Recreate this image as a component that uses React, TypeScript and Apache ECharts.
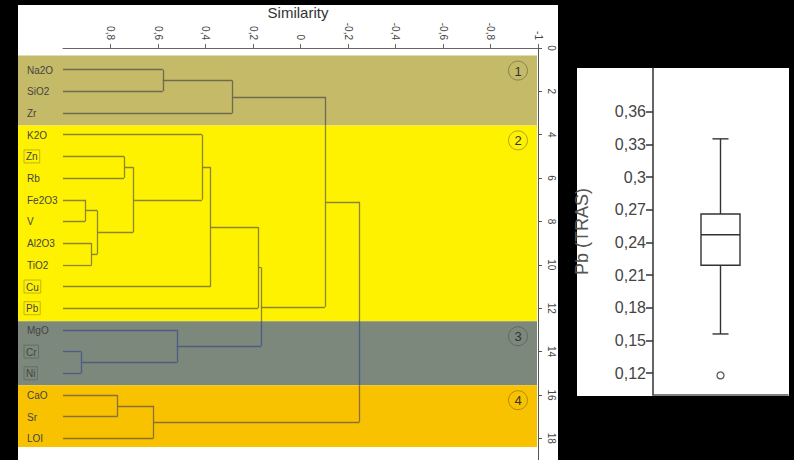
import React, { useEffect, useRef } from "react";
import * as echarts from "echarts";

// ---- Dendrogram data ----
const leaves = ["Na2O", "SiO2", "Zr", "K2O", "Zn", "Rb", "Fe2O3", "V", "Al2O3", "TiO2", "Cu", "Pb", "MgO", "Cr", "Ni", "CaO", "Sr", "LOI"];
const boxedLeaves = ["Zn", "Cu", "Pb", "Cr", "Ni"];
// merge steps (negative = leaf index, 1-based; positive = earlier merge, 1-based)
const mergeA = [-14, -7, -9, 2, -16, -5, 6, 5, -1, -13, -4, 11, 9, 12, 14, 13, 16];
const mergeB = [-15, -8, -10, 3, -17, -6, 4, -18, -2, 1, 7, -11, -3, -12, 10, 15, 8];
const mergeSim = [0.924, 0.907, 0.879, 0.855, 0.771, 0.743, 0.704, 0.62, 0.58, 0.521, 0.415, 0.378, 0.287, 0.179, 0.166, -0.103, -0.248];
const similarityTicks = [0.8, 0.6, 0.4, 0.2, 0, -0.2, -0.4, -0.6, -0.8, -1];
const clusterIds = ["1", "2", "3", "4"];
const clusterTop = [0.35, 3.57, 12.6, 15.55];
const clusterBottom = [3.57, 12.6, 15.55, 18.4];

// ---- Boxplot data ----
const boxCategory = ["Pb"];
const boxStats = [0.156, 0.219, 0.247, 0.266, 0.335]; // min, Q1, median, Q3, max
const boxOutliers = [0.118];
const boxTicks = [0.12, 0.15, 0.18, 0.21, 0.24, 0.27, 0.3, 0.33, 0.36];

// ---- styles ----
const bandFill = ["#C4BA68", "#FFF200", "#7B887B", "#F8C200"];
const bandLine = ["#6E6B50", "#8C8530", "#4D5D84", "#8A7035"];
const bandRing = ["#8A8250", "#B0A420", "#5E6A5E", "#B08A10"];

function bandOf(y: number): number {
  for (let i = 0; i < clusterTop.length; i++) {
    if (y >= clusterTop[i] && y < clusterBottom[i]) return i;
  }
  return y < clusterTop[0] ? 0 : clusterTop.length - 1;
}

function buildSegments() {
  const nodes: { x: number; y: number }[] = [];
  const pos = (id: number) => (id < 0 ? { x: 1, y: -id } : nodes[id - 1]);
  const raw: number[][] = [];
  for (let k = 0; k < mergeA.length; k++) {
    const a = pos(mergeA[k]);
    const b = pos(mergeB[k]);
    const s = mergeSim[k];
    raw.push([a.x, a.y, s, a.y]);
    raw.push([b.x, b.y, s, b.y]);
    raw.push([s, a.y, s, b.y]);
    nodes.push({ x: s, y: (a.y + b.y) / 2 });
  }
  const out: { coords: number[][]; lineStyle: { color: string } }[] = [];
  raw.forEach(([x1, y1, x2, y2]) => {
    if (y1 === y2) {
      out.push({ coords: [[x1, y1], [x2, y2]], lineStyle: { color: bandLine[bandOf(y1)] } });
    } else {
      const lo = Math.min(y1, y2);
      const hi = Math.max(y1, y2);
      const cuts = [lo];
      clusterBottom.forEach((c) => {
        if (c > lo && c < hi) cuts.push(c);
      });
      cuts.push(hi);
      for (let i = 0; i < cuts.length - 1; i++) {
        const mid = (cuts[i] + cuts[i + 1]) / 2;
        out.push({ coords: [[x1, cuts[i]], [x1, cuts[i + 1]]], lineStyle: { color: bandLine[bandOf(mid)] } });
      }
    }
  });
  return out;
}

const fmtComma = (v: number) => String(Math.round(v * 1000) / 1000).replace(".", ",");

export default function App() {
  const ref = useRef<HTMLDivElement>(null);
  useEffect(() => {
    if (!ref.current) return;
    const chart = echarts.init(ref.current, null, { renderer: "svg" });
    const font = "'Liberation Sans', Arial, sans-serif";
    const option: any = {
      animation: false,
      backgroundColor: "#000",
      textStyle: { fontFamily: font },
      graphic: [
        { type: "rect", z: -10, shape: { x: 18, y: 5, width: 540, height: 455 }, style: { fill: "#fff" } },
        { type: "rect", z: -10, shape: { x: 577, y: 68, width: 212, height: 328 }, style: { fill: "#fff" } },
        {
          type: "text",
          x: 298,
          y: 12,
          style: { text: "Similarity", fontSize: 15, fill: "#333", align: "center", verticalAlign: "middle", fontFamily: font },
        },
      ],
      grid: [
        { left: 63, top: 48, width: 475, height: 412 },
        { left: 18, top: 48, width: 519, height: 412 },
        { left: 653, top: 68, width: 135, height: 327 },
      ],
      xAxis: [
        {
          gridIndex: 0,
          type: "value",
          min: -1,
          max: 1,
          inverse: true,
          position: "top",
          splitLine: { show: false },
          axisLine: { show: true, onZero: false, lineStyle: { color: "#666", width: 1 } },
          axisTick: { show: true, length: 4, lineStyle: { color: "#666" }, customValues: similarityTicks },
          axisLabel: {
            rotate: 90,
            margin: 8,
            fontSize: 10,
            color: "#444",
            customValues: similarityTicks,
            formatter: (v: number) => fmtComma(v),
          },
        },
        {
          gridIndex: 1,
          type: "value",
          min: 0,
          max: 1,
          show: false,
        },
        {
          gridIndex: 2,
          type: "category",
          data: boxCategory,
          axisLine: { show: true, onZero: false, lineStyle: { color: "#555", width: 1.5 } },
          axisTick: { show: false },
          axisLabel: { show: false },
        },
      ],
      yAxis: [
        {
          gridIndex: 0,
          type: "value",
          min: 0,
          max: 19,
          interval: 2,
          inverse: true,
          position: "right",
          splitLine: { show: false },
          axisLine: { show: true, onZero: false, lineStyle: { color: "#555", width: 1 } },
          axisTick: { show: true, length: 4, lineStyle: { color: "#555" } },
          axisLabel: { rotate: -90, margin: 8, fontSize: 10, color: "#444", showMaxLabel: false },
        },
        {
          gridIndex: 1,
          type: "value",
          min: 0,
          max: 19,
          inverse: true,
          position: "left",
          z: 10,
          splitLine: { show: false },
          axisLine: { show: false, onZero: false },
          axisTick: { show: false },
          axisLabel: {
            inside: true,
            margin: 6,
            fontSize: 10,
            color: "#444",
            customValues: leaves.map((_, i) => i + 1),
            formatter: (v: number) => {
              const n = leaves[Math.round(v) - 1] || "";
              if (boxedLeaves.includes(n)) return `{b${bandOf(v)}|${n}}`;
              return `{n|${n}}`;
            },
            rich: {
              n: { fontSize: 10, color: "#444", padding: [2, 2, 1, 3] },
              b0: { fontSize: 10, color: "#444", padding: [2, 2, 1, 2], borderColor: bandRing[0], borderWidth: 0.8 },
              b1: { fontSize: 10, color: "#444", padding: [2, 2, 1, 2], borderColor: bandRing[1], borderWidth: 0.8 },
              b2: { fontSize: 10, color: "#444", padding: [2, 2, 1, 2], borderColor: bandRing[2], borderWidth: 0.8 },
              b3: { fontSize: 10, color: "#444", padding: [2, 2, 1, 2], borderColor: bandRing[3], borderWidth: 0.8 },
            },
          },
        },
        {
          gridIndex: 2,
          type: "value",
          min: 0.1,
          max: 0.4,
          name: "Pb (TRAS)",
          nameLocation: "middle",
          nameRotate: 90,
          nameGap: 62,
          nameTextStyle: { fontSize: 18, color: "#555" },
          splitLine: { show: false },
          axisLine: { show: true, onZero: false, lineStyle: { color: "#333", width: 1.5 } },
          axisTick: { show: true, length: 7, lineStyle: { color: "#333", width: 1.5 }, customValues: boxTicks },
          axisLabel: {
            margin: 7,
            fontSize: 16,
            color: "#444",
            customValues: boxTicks,
            formatter: (v: number) => fmtComma(v),
          },
        },
      ],
      series: [
        {
          type: "custom",
          xAxisIndex: 1,
          yAxisIndex: 1,
          z: 1,
          data: clusterTop.map((t, i) => [t, clusterBottom[i]]),
          encode: { y: [0, 1] },
          renderItem: (params: any, api: any) => {
            const i = params.dataIndex;
            const p1 = api.coord([0, api.value(0)]);
            const p2 = api.coord([1, api.value(1)]);
            return {
              type: "group",
              children: [
                {
                  type: "rect",
                  shape: { x: p1[0], y: p1[1], width: p2[0] - p1[0], height: p2[1] - p1[1] },
                  style: { fill: bandFill[i] },
                },
                {
                  type: "circle",
                  shape: { cx: p2[0] - 19, cy: p1[1] + 15, r: 9.5 },
                  style: { fill: "none", stroke: bandRing[i], lineWidth: 1 },
                },
                {
                  type: "text",
                  x: p2[0] - 19,
                  y: p1[1] + 15.5,
                  style: { text: clusterIds[i], fontSize: 13, fill: "#333", align: "center", verticalAlign: "middle", fontFamily: font },
                },
              ],
            };
          },
        },
        {
          type: "lines",
          coordinateSystem: "cartesian2d",
          xAxisIndex: 0,
          yAxisIndex: 0,
          z: 3,
          lineStyle: { width: 1.3, opacity: 1 },
          data: buildSegments(),
        },
        {
          type: "custom",
          xAxisIndex: 2,
          yAxisIndex: 2,
          z: 3,
          data: [[0, ...boxStats]],
          encode: { x: 0, y: [1, 2, 3, 4, 5] },
          renderItem: (params: any, api: any) => {
            const cx = api.coord([api.value(0), api.value(3)])[0];
            const y = (k: number) => api.coord([api.value(0), api.value(k)])[1];
            const bw = 39;
            const cw = 16;
            const st = { stroke: "#333", lineWidth: 1.4, fill: "none" };
            return {
              type: "group",
              children: [
                { type: "rect", shape: { x: cx - bw / 2, y: y(4), width: bw, height: y(2) - y(4) }, style: { ...st, fill: "#fff" } },
                { type: "line", shape: { x1: cx - bw / 2, y1: y(3), x2: cx + bw / 2, y2: y(3) }, style: st },
                { type: "line", shape: { x1: cx, y1: y(4), x2: cx, y2: y(5) }, style: st },
                { type: "line", shape: { x1: cx - cw / 2, y1: y(5), x2: cx + cw / 2, y2: y(5) }, style: st },
                { type: "line", shape: { x1: cx, y1: y(2), x2: cx, y2: y(1) }, style: st },
                { type: "line", shape: { x1: cx - cw / 2, y1: y(1), x2: cx + cw / 2, y2: y(1) }, style: st },
              ],
            };
          },
        },
        {
          type: "scatter",
          xAxisIndex: 2,
          yAxisIndex: 2,
          z: 4,
          symbol: "circle",
          symbolSize: 7,
          itemStyle: { color: "#fff", borderColor: "#333", borderWidth: 1.3 },
          data: boxOutliers.map((v) => [0, v]),
        },
      ],
    };
    chart.setOption(option);
    return () => chart.dispose();
  }, []);
  return (
    <div
      ref={ref}
      style={{ position: "fixed", left: 0, top: 0, width: 794, height: 460, background: "#000" }}
    />
  );
}
